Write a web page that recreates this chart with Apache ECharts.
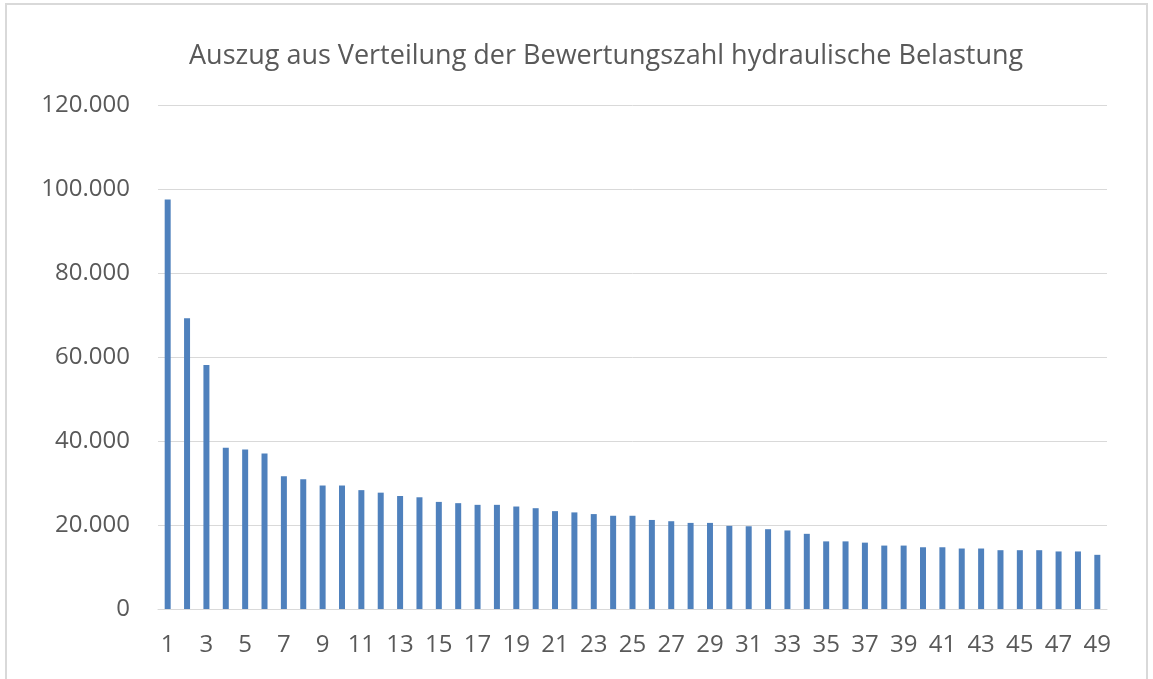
<!DOCTYPE html>
<html>
<head>
<meta charset="UTF-8">
<title>Bewertungszahl</title>
<script src="https://cdn.jsdelivr.net/npm/echarts@6/dist/echarts.min.js"></script>
<style>
  * { margin: 0; padding: 0; }
  body { background: #fff; }
  #container { width: 1153px; height: 679px; }
</style>
</head>
<body>
<div id="container"></div>
<script>
// Rang 1..49
var categories = [];
for (var i = 1; i <= 49; i++) categories.push(String(i));

// Bewertungszahl
var values = [
  97500, 69200, 58100, 38400, 38000, 37000, 31600, 30900, 29400, 29400,
  28300, 27700, 26900, 26600, 25500, 25200, 24800, 24800, 24400, 24000,
  23300, 23000, 22600, 22200, 22200, 21200, 20900, 20500, 20500, 19800,
  19700, 19000, 18700, 17900, 16100, 16100, 15800, 15100, 15100, 14700,
  14700, 14400, 14400, 14000, 14000, 14000, 13700, 13700, 12900
];

var yTicks = [0, 20000, 40000, 60000, 80000, 100000, 120000];

var titleText = 'Auszug aus Verteilung der Bewertungszahl hydraulische Belastung';

function fmt(v) {
  // deutsches Tausendertrennzeichen
  return String(v).replace(/\B(?=(\d{3})+(?!\d))/g, '.');
}

var chart = echarts.init(document.getElementById('container'));
chart.setOption({
  animation: false,
  backgroundColor: '#fff',
  textStyle: { fontFamily: 'Open Sans' },
  graphic: [{
    type: 'rect',
    shape: { x: 6, y: 4, width: 1141, height: 720 },
    style: { fill: 'none', stroke: '#d9d9d9', lineWidth: 2 },
    silent: true
  }],
  title: {
    text: titleText,
    left: 184,
    top: 38,
    textStyle: { color: '#595959', fontSize: 27, fontWeight: 'normal', fontFamily: 'Open Sans' }
  },
  grid: { left: 158, right: 46, top: 105, bottom: 70 },
  xAxis: {
    type: 'category',
    data: categories,
    axisTick: { show: false },
    axisLine: { lineStyle: { color: '#d9d9d9', width: 1 } },
    axisLabel: { color: '#595959', fontSize: 24, interval: 1, margin: 24 }
  },
  yAxis: {
    type: 'value',
    min: yTicks[0],
    max: yTicks[yTicks.length - 1],
    interval: 20000,
    axisLine: { show: false },
    axisTick: { show: false },
    splitLine: { lineStyle: { color: '#d9d9d9', width: 1 } },
    axisLabel: { color: '#595959', fontSize: 24, margin: 28, formatter: fmt }
  },
  series: [{
    type: 'bar',
    data: values,
    barWidth: 6,
    itemStyle: { color: '#4f81bd' }
  }]
});
</script>
</body>
</html>
